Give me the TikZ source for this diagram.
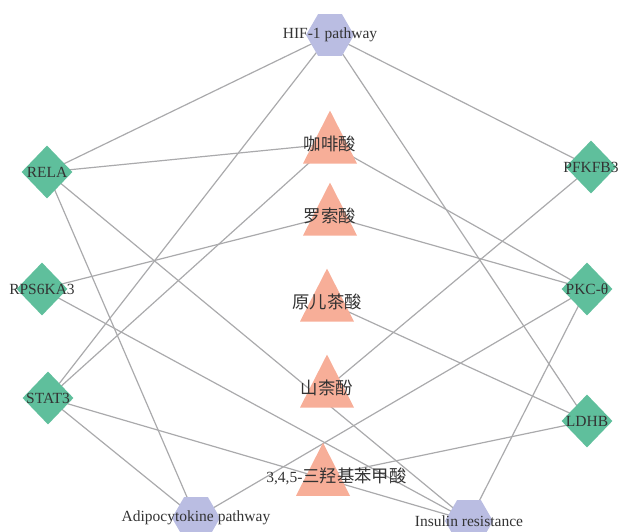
\documentclass[tikz,border=0pt]{standalone}
\usepackage{fontspec}
\setmainfont{Liberation Serif}
\newfontfamily\cjk{Noto Sans CJK SC}[Scale=1.12]
\usetikzlibrary{shapes.geometric}
\definecolor{pathfill}{HTML}{BABDE2}
\definecolor{genefill}{HTML}{5FBF9C}
\definecolor{herbfill}{HTML}{F7AE98}
\definecolor{linkgray}{HTML}{AAAAAC}
\pgfdeclarelayer{bg}
\pgfsetlayers{bg,main}

\begin{document}
\begin{tikzpicture}[x=1pt, y=-1pt,
    every node/.style={font=\fontsize{15.5}{18}\selectfont, text=black!80, inner sep=0pt},
    pathway/.style={regular polygon, regular polygon sides=6, minimum size=48pt, fill=pathfill},
    gene/.style={diamond, minimum width=51pt, minimum height=53pt, fill=genefill},
    herb/.style={isosceles triangle, shape border rotate=90, isosceles triangle stretches, minimum width=54pt, minimum height=53pt, fill=herbfill},
    link/.style={draw=linkgray, line width=1.2pt}
  ]
    \useasboundingbox (0,0) rectangle (621,531);
    \clip (0,0) rectangle (621,531);

    % pathways
    \node[pathway] (hif) at (330,35) {\makebox[0pt]{HIF-1 pathway}};
    \node[pathway] (adipo) at (196,518) {\makebox[0pt]{\raisebox{-2pt}{Adipocytokine pathway}}};
    \node[pathway] (insulin) at (469,521) {\makebox[0pt]{\raisebox{-2pt}{Insulin resistance}}};

    % targets
    \node[gene] (rela) at (47,172) {\makebox[0pt]{RELA}};
    \node[gene] (rps) at (42,289) {\makebox[0pt]{RPS6KA3}};
    \node[gene] (stat) at (48,398) {\makebox[0pt]{STAT3}};
    \node[gene] (pfkfb) at (591,167) {\makebox[0pt]{PFKFB3}};
    \node[gene] (pkc) at (587,289) {\makebox[0pt]{PKC-θ}};
    \node[gene] (ldhb) at (587,421) {\makebox[0pt]{LDHB}};

    % compounds
    \node[herb] (caffeic) at (330,144) {\makebox[0pt]{\cjk 咖啡酸}};
    \node[herb] (rosolic) at (330,216) {\makebox[0pt]{\cjk 罗索酸}};
    \node[herb] (protocat) at (327,302) {\makebox[0pt]{\cjk 原儿茶酸}};
    \node[herb] (kaempf) at (327,388) {\makebox[0pt]{\cjk 山柰酚}};
    \node[herb] (gallic) at (323,476) {\makebox[0pt]{\hspace*{27pt}3,4,5-{\cjk 三羟基苯甲酸}}};

    \begin{pgfonlayer}{bg}
      \draw[link] (hif.center) -- (rela.center);
      \draw[link] (hif.center) -- (stat.center);
      \draw[link] (hif.center) -- (pfkfb.center);
      \draw[link] (hif.center) -- (ldhb.center);
      \draw[link] (adipo.center) -- (rela.center);
      \draw[link] (adipo.center) -- (stat.center);
      \draw[link] (adipo.center) -- (pkc.center);
      \draw[link] (insulin.center) -- (rela.center);
      \draw[link] (insulin.center) -- (rps.center);
      \draw[link] (insulin.center) -- (stat.center);
      \draw[link] (insulin.center) -- (pkc.center);
      \draw[link] (caffeic.center) -- (rela.center);
      \draw[link] (caffeic.center) -- (stat.center);
      \draw[link] (caffeic.center) -- (pkc.center);
      \draw[link] (rosolic.center) -- (rps.center);
      \draw[link] (rosolic.center) -- (pkc.center);
      \draw[link] (protocat.center) -- (ldhb.center);
      \draw[link] (kaempf.center) -- (pfkfb.center);
      \draw[link] (gallic.center) -- (ldhb.center);
    \end{pgfonlayer}
\end{tikzpicture}
\end{document}
